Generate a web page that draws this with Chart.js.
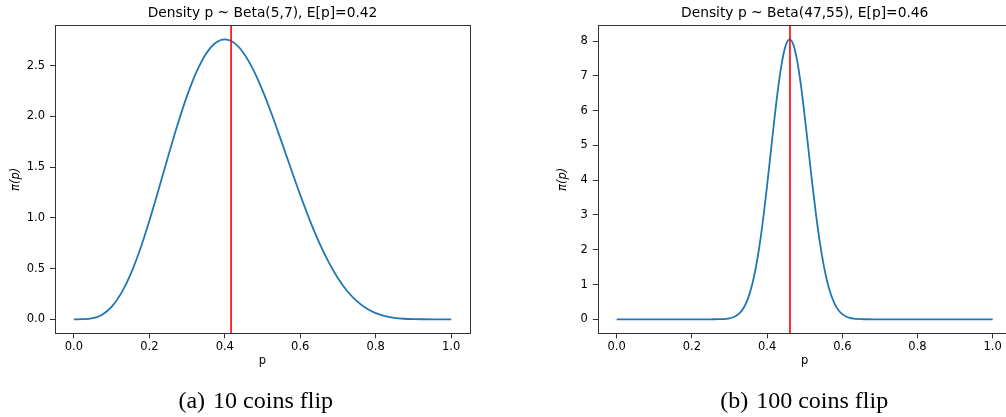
<!DOCTYPE html>
<html>
<head>
<meta charset="utf-8">
<script src="https://cdn.jsdelivr.net/npm/chart.js@4.4.1/dist/chart.umd.min.js"></script>
<style>
  html, body { margin: 0; padding: 0; background: #fff; overflow: hidden; width: 1006px; height: 417px; }
  .panel { position: absolute; top: 0; }
  .caption {
    position: absolute; width: 260px; text-align: center;
    font-family: "Liberation Serif", "DejaVu Serif", serif; font-size: 24px; line-height: 24px;
    color: #000; white-space: nowrap; top: 387.5px;
  }
  .caption .tag { margin-right: 8px; }
</style>
</head>
<body>
<canvas id="chartA" class="panel" width="480" height="390" style="left:0px"></canvas>
<canvas id="chartB" class="panel" width="480" height="390" style="left:540px"></canvas>
<div class="caption" style="left:125.8px"><span class="tag">(a)</span>10 coins flip</div>
<div class="caption" style="left:674.2px"><span class="tag">(b)</span>100 coins flip</div>
<script>
// Posterior density after 10 flips: Beta(5,7)
const p10 = [0, 0.025, 0.05, 0.075, 0.1, 0.125, 0.15, 0.175, 0.2, 0.225, 0.25, 0.275, 0.3, 0.325, 0.35, 0.375, 0.4,
  0.425, 0.45, 0.475, 0.5, 0.525, 0.55, 0.575, 0.6, 0.625, 0.65, 0.675, 0.7, 0.725, 0.75, 0.775, 0.8, 0.825, 0.85,
  0.875, 0.9, 0.925, 0.95, 0.975, 1.0];
const density10 = [0, 0.0008, 0.0106, 0.0458, 0.1228, 0.2531, 0.4411, 0.6831, 0.9689, 1.2828, 1.6060, 1.9185, 2.2013,
  2.4377, 2.6144, 2.7228, 2.7591, 2.7238, 2.6221, 2.4623, 2.2559, 2.0157, 1.7553, 1.4880, 1.2262, 0.9802, 0.7580,
  0.5651, 0.4043, 0.2760, 0.1784, 0.1081, 0.0606, 0.0307, 0.0137, 0.0052, 0.0015, 0.0003, 0.0000, 0, 0];
const mean10 = 0.4167;
const title10 = 'Density p ~ Beta(5,7), E[p]=0.42';
const yTicks10 = [0, 0.5, 1.0, 1.5, 2.0, 2.5];
const yTickLabels10 = ['0.0', '0.5', '1.0', '1.5', '2.0', '2.5'];

// Posterior density after 100 flips: Beta(47,55)
const p100 = [0, 0.05, 0.1, 0.15, 0.2, 0.25, 0.26, 0.27, 0.28, 0.29, 0.30, 0.31, 0.32, 0.33, 0.34, 0.35, 0.36, 0.37,
  0.38, 0.39, 0.40, 0.41, 0.42, 0.43, 0.44, 0.45, 0.46, 0.47, 0.48, 0.49, 0.50, 0.51, 0.52, 0.53, 0.54, 0.55, 0.56,
  0.57, 0.58, 0.59, 0.60, 0.61, 0.62, 0.63, 0.64, 0.65, 0.66, 0.67, 0.68, 0.70, 0.75, 0.8, 0.85, 0.9, 0.95, 1.0];
const density100 = [0, 0, 0, 0, 0, 0, 0.0008, 0.0022, 0.0054, 0.0128, 0.0283, 0.0589, 0.1153, 0.2135, 0.374, 0.622,
  0.985, 1.484, 2.132, 2.927, 3.842, 4.828, 5.812, 6.706, 7.425, 7.889, 8.05, 7.890, 7.430, 6.722, 5.844, 4.881,
  3.915, 3.018, 2.232, 1.584, 1.078, 0.704, 0.439, 0.2625, 0.150, 0.0817, 0.0425, 0.0210, 0.0099, 0.0044, 0.0019,
  0.0008, 0.0003, 0, 0, 0, 0, 0, 0, 0];
const mean100 = 0.4608;
const title100 = 'Density p ~ Beta(47,55), E[p]=0.46';
const yTicks100 = [0, 1, 2, 3, 4, 5, 6, 7, 8];
const yTickLabels100 = ['0', '1', '2', '3', '4', '5', '6', '7', '8'];

// Shared x axis
const xTicks = [0, 0.2, 0.4, 0.6, 0.8, 1.0];
const xTickLabels = ['0.0', '0.2', '0.4', '0.6', '0.8', '1.0'];

const FONT = 'DejaVu Sans';
const AXIS_COLOR = '#333';

// Draws the full box around the plot area and the title centred over it
const framePlugin = {
  id: 'frame',
  afterDraw(chart, args, opts) {
    const a = chart.chartArea, ctx = chart.ctx;
    ctx.save();
    ctx.strokeStyle = AXIS_COLOR;
    ctx.lineWidth = 1;
    ctx.strokeRect(Math.round(a.left) + 0.5, Math.round(a.top) + 0.5,
      Math.round(a.right - a.left), Math.round(a.bottom - a.top));
    ctx.fillStyle = '#000';
    ctx.font = '13.8px "' + FONT + '"';
    ctx.textAlign = 'center';
    ctx.textBaseline = 'middle';
    ctx.fillText(opts.title, (a.left + a.right) / 2, 13);
    ctx.restore();
  }
};

// Vertical marker at the posterior mean
const meanLinePlugin = {
  id: 'meanLine',
  afterDatasetsDraw(chart, args, opts) {
    const x = chart.scales.x.getPixelForValue(opts.value);
    const a = chart.chartArea, ctx = chart.ctx;
    ctx.save();
    ctx.strokeStyle = '#ff0000';
    ctx.lineWidth = 1.6;
    ctx.beginPath();
    ctx.moveTo(x, a.top);
    ctx.lineTo(x, a.bottom);
    ctx.stroke();
    ctx.restore();
  }
};

function makeChart(id, xs, ys, mean, title, yMin, yMax, yTicks, yLabels, yWidth, padRight, yTitlePad) {
  const points = xs.map((x, i) => ({ x: x, y: ys[i] }));
  return new Chart(document.getElementById(id), {
    type: 'line',
    data: {
      datasets: [{
        data: points,
        borderColor: '#1f77b4',
        borderWidth: 1.8,
        pointRadius: 0,
        fill: false,
        cubicInterpolationMode: 'monotone'
      }]
    },
    options: {
      responsive: false,
      animation: false,
      events: [],
      layout: { padding: { left: 0, right: padRight, top: 25.3, bottom: 0 } },
      plugins: {
        legend: { display: false },
        tooltip: { enabled: false },
        title: { display: false },
        frame: { title: title },
        meanLine: { value: mean }
      },
      scales: {
        x: {
          type: 'linear', min: -0.05, max: 1.05,
          afterBuildTicks: s => { s.ticks = xTicks.map(v => ({ value: v })); },
          afterFit: s => { s.height = 56.7; },
          ticks: {
            callback: (v, i) => xTickLabels[i],
            color: '#000', font: { family: FONT, size: 11.5 }, padding: 2, maxRotation: 0
          },
          grid: { drawOnChartArea: false, drawTicks: true, tickLength: 5, color: AXIS_COLOR, tickColor: AXIS_COLOR },
          border: { display: false },
          title: { display: true, text: 'p', color: '#000', font: { family: FONT, size: 11.5 }, padding: { top: 0, bottom: 21.6 } }
        },
        y: {
          type: 'linear', min: yMin, max: yMax,
          afterBuildTicks: s => { s.ticks = yTicks.map(v => ({ value: v })); },
          afterFit: s => { s.width = yWidth; },
          ticks: {
            callback: (v, i) => yLabels[i],
            color: '#000', font: { family: FONT, size: 11.5 }, padding: 5
          },
          grid: { drawOnChartArea: false, drawTicks: true, tickLength: 5, color: AXIS_COLOR, tickColor: AXIS_COLOR },
          border: { display: false },
          title: { display: true, text: 'π(p)', color: '#000', font: { family: FONT, size: 11.5, style: 'italic' }, padding: { top: yTitlePad, bottom: 0 } }
        }
      }
    },
    plugins: [framePlugin, meanLinePlugin]
  });
}

makeChart('chartA', p10, density10, mean10, title10, -0.138, 2.897, yTicks10, yTickLabels10, 55, 10, 9);
makeChart('chartB', p100, density100, mean100, title100, -0.4025, 8.4525, yTicks100, yTickLabels100, 57.9, 8.5, 16);
</script>
</body>
</html>
